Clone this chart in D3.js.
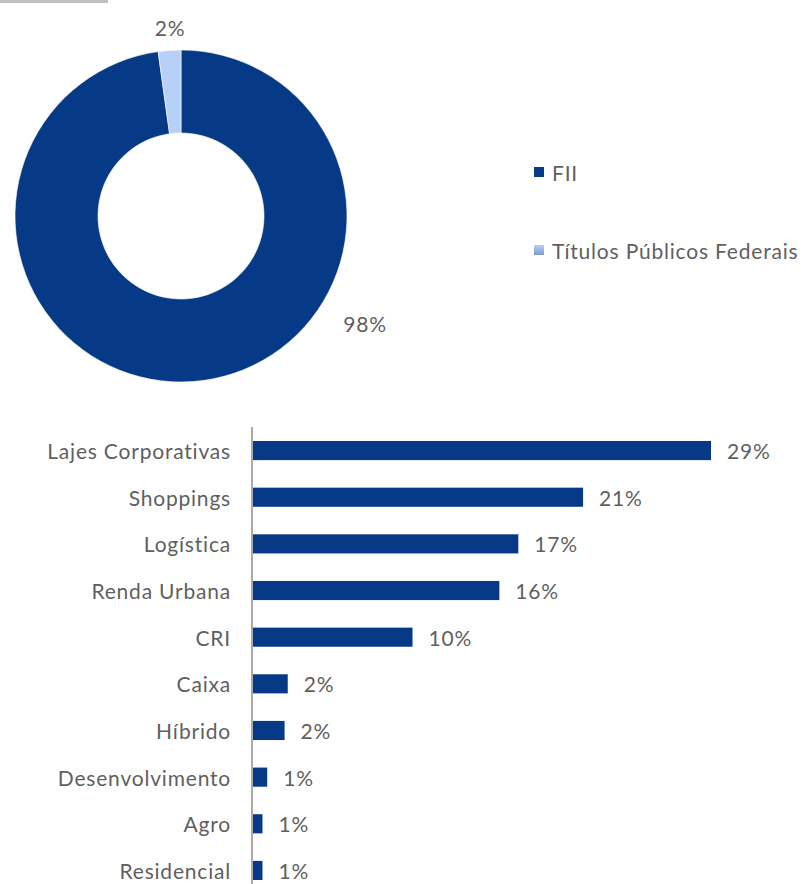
<!DOCTYPE html>
<html>
<head>
<meta charset="utf-8">
<script src="https://cdn.jsdelivr.net/npm/d3@7"></script>
<style>
  html, body { margin: 0; padding: 0; background: #fff; }
  svg { display: block; }
  text { font-family: Lato, "Open Sans", sans-serif; fill: #5f5f5f; font-weight: 400; letter-spacing: 0.8px; }
</style>
</head>
<body>
<svg id="chart" width="803" height="884"></svg>
<script>
// ---- Data ----
const donutCategories = ["FII", "Títulos Públicos Federais"];
const donutValues = [97.8, 2.2];
const donutLabels = ["98%", "2%"];

const barCategories = ["Lajes Corporativas", "Shoppings", "Logística", "Renda Urbana", "CRI",
  "Caixa", "Híbrido", "Desenvolvimento", "Agro", "Residencial"];
const barValues = [29.0, 20.9, 16.8, 15.6, 10.1, 2.2, 2.0, 0.9, 0.6, 0.6];
const barLabels = ["29%", "21%", "17%", "16%", "10%", "2%", "2%", "1%", "1%", "1%"];

// ---- Setup ----
const svg = d3.select("#chart");
const dark = "#063a87";
const defs = svg.append("defs");
const grad = defs.append("radialGradient")
  .attr("id", "lightGrad")
  .attr("gradientUnits", "userSpaceOnUse")
  .attr("cx", 181).attr("cy", 216).attr("r", 166);
grad.append("stop").attr("offset", "0.5").attr("stop-color", "#7f9bcb");
grad.append("stop").attr("offset", "1").attr("stop-color", "#b7d0f7");

const legGrad = defs.append("linearGradient")
  .attr("id", "legGrad").attr("x1", 0).attr("y1", 0).attr("x2", 0).attr("y2", 1);
legGrad.append("stop").attr("offset", "0").attr("stop-color", "#b7d0f7");
legGrad.append("stop").attr("offset", "1").attr("stop-color", "#7f9bcb");

const colors = [dark, "url(#lightGrad)"];
const legColors = [dark, "url(#legGrad)"];

// top gray strip
svg.append("rect").attr("x", 0).attr("y", 0).attr("width", 108).attr("height", 3)
  .attr("fill", "#c0c0bc");

// ---- Donut ----
const cx = 181, cy = 216, rOuter = 166, rInner = 83;
const pie = d3.pie().sort(null).value(d => d);
const arc = d3.arc().innerRadius(rInner).outerRadius(rOuter);
const arcs = pie(donutValues);
const g = svg.append("g").attr("transform", `translate(${cx},${cy})`);
g.selectAll("path").data(arcs).join("path")
  .attr("d", arc)
  .attr("fill", (d, i) => colors[i])
  .attr("stroke", "#fff").attr("stroke-width", 0.6);

// donut labels
const labelPos = [[365, 323], [170, 27]];
svg.selectAll("text.dl").data(donutLabels).join("text")
  .attr("class", "dl")
  .attr("x", (d, i) => labelPos[i][0])
  .attr("y", (d, i) => labelPos[i][1])
  .attr("text-anchor", "middle").attr("dominant-baseline", "central")
  .attr("font-size", 21)
  .text(d => d);

// legend
const leg = svg.append("g");
const legY = [172, 250];
donutCategories.forEach((c, i) => {
  leg.append("rect").attr("x", 534).attr("y", legY[i] - 5).attr("width", 10).attr("height", 10)
    .attr("fill", legColors[i]);
  leg.append("text").attr("x", 552).attr("y", legY[i])
    .attr("dominant-baseline", "central").attr("font-size", 21).text(c);
});

// ---- Bar chart ----
const x0 = 253;
const x = d3.scaleLinear().domain([0, 29]).range([x0, 711]);
const y = d3.scaleBand().domain(barCategories).range([427, 894]).paddingInner(0.59).paddingOuter(0.3);

svg.selectAll("rect.bar").data(barCategories).join("rect")
  .attr("class", "bar")
  .attr("x", x(0))
  .attr("y", d => y(d))
  .attr("width", (d, i) => x(barValues[i]) - x(0))
  .attr("height", y.bandwidth())
  .attr("fill", dark);

// axis line
svg.append("line").attr("x1", 252).attr("x2", 252).attr("y1", 427).attr("y2", 884)
  .attr("stroke", "#8c8c8c").attr("stroke-width", 1.5);

// category labels
svg.selectAll("text.cat").data(barCategories).join("text")
  .attr("class", "cat")
  .attr("x", 231)
  .attr("y", d => y(d) + y.bandwidth() / 2)
  .attr("text-anchor", "end").attr("dominant-baseline", "central")
  .attr("font-size", 21)
  .text(d => d);

// value labels
svg.selectAll("text.val").data(barCategories).join("text")
  .attr("class", "val")
  .attr("x", (d, i) => x(barValues[i]) + 16)
  .attr("y", d => y(d) + y.bandwidth() / 2)
  .attr("dominant-baseline", "central")
  .attr("font-size", 21)
  .text((d, i) => barLabels[i]);
</script>
</body>
</html>
